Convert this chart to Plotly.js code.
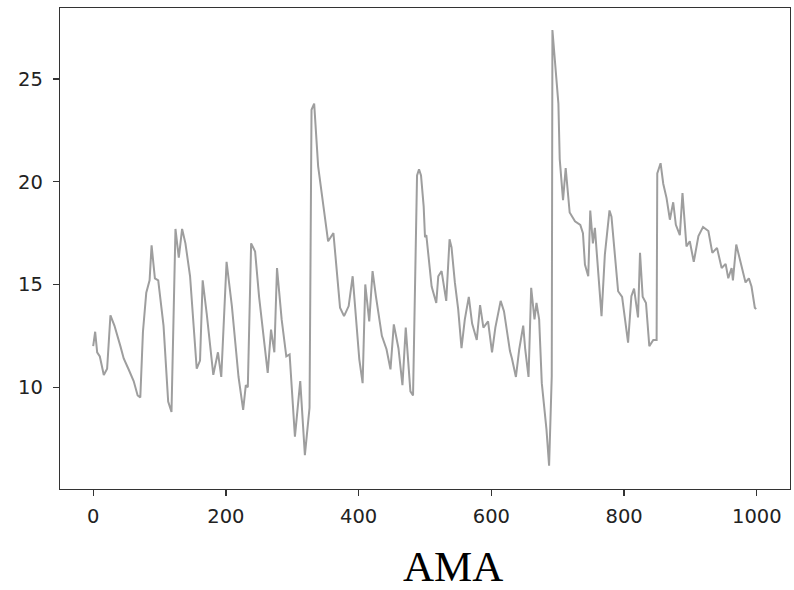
<!DOCTYPE html>
<html>
<head>
<meta charset="utf-8">
<script src="https://cdn.plot.ly/plotly-3.0.1.min.js"></script>
<style>html,body{margin:0;padding:0;background:#fff;}#chart{width:794px;height:590px;}</style>
</head>
<body>
<div id="chart"></div>
<script>
const chartTitle = "AMA";
const xTicks = [0, 200, 400, 600, 800, 1000];
const yTicks = [10, 15, 20, 25];
const stepIndex = [0,3,6,10,16,21,26,32,41,46,53,61,67,71,75,80,85,88,93,98,106,113,118,124,129,134,139,146,156,161,165,171,181,188,193,201,209,219,226,230,233,238,244,250,263,268,273,277,284,291,296,304,312,319,326,329,333,339,347,354,362,372,378,385,391,395,401,406,410,416,421,426,435,442,448,453,460,466,471,478,482,488,491,494,498,500,502,510,517,520,525,532,537,540,545,550,555,560,566,571,578,583,588,595,601,606,614,619,628,631,637,642,648,651,656,660,665,668,672,676,683,687,691,692,696,701,703,708,712,718,726,734,738,741,746,749,753,756,766,771,778,781,791,797,806,811,815,821,824,828,833,838,844,849,850,855,859,864,869,874,878,884,888,894,899,905,912,919,927,933,940,947,953,957,962,964,969,977,980,983,988,992,997,999];
const amaValue = [12.0,12.7,11.7,11.5,10.6,10.9,13.5,13.0,12.0,11.4,10.9,10.3,9.6,9.5,12.7,14.6,15.2,16.9,15.3,15.2,13.0,9.3,8.8,17.7,16.3,17.7,17.0,15.4,10.9,11.3,15.2,13.6,10.6,11.7,10.5,16.1,13.95,10.5,8.9,10.1,10.0,17.0,16.6,14.4,10.7,12.8,11.7,15.8,13.3,11.5,11.6,7.6,10.3,6.7,9.0,23.5,23.8,20.75,18.8,17.1,17.5,13.87,13.46,13.95,15.4,13.8,11.36,10.2,15.0,13.2,15.65,14.43,12.5,11.85,10.87,13.06,11.9,10.1,12.9,9.8,9.6,20.3,20.6,20.3,18.8,17.3,17.4,14.9,14.1,15.4,15.65,14.2,17.2,16.8,15.1,13.8,11.9,13.3,14.4,13.1,12.3,14.0,12.9,13.2,11.7,12.9,14.2,13.7,11.76,11.4,10.5,11.85,13.0,11.85,10.5,14.84,13.3,14.1,13.3,10.2,7.96,6.18,10.55,27.38,25.76,23.8,21.1,19.1,20.66,18.5,18.07,17.9,17.5,15.97,15.4,18.6,17.0,17.75,13.46,16.45,18.6,18.3,14.67,14.4,12.17,14.43,14.8,13.4,16.54,14.4,14.1,12.0,12.3,12.3,20.4,20.9,19.9,19.2,18.15,19.0,17.9,17.4,19.45,16.85,17.1,16.1,17.35,17.8,17.6,16.54,16.78,15.8,16.0,15.3,15.8,15.2,16.94,15.97,15.6,15.1,15.3,14.9,13.87,13.8];

const trace = {
  x: stepIndex, y: amaValue, type: 'scatter', mode: 'lines',
  line: {color: 'rgb(158,158,158)', width: 2}, hoverinfo: 'skip'
};
const axisCommon = {
  showline: true, mirror: true, linecolor: '#333', linewidth: 1.3,
  ticks: 'outside', ticklen: 6, tickwidth: 1.2, tickcolor: '#333',
  showgrid: false, zeroline: false,
  tickfont: {family: 'DejaVu Sans, sans-serif', size: 19.5, color: '#222'}
};
const layout = {
  width: 794, height: 590,
  margin: {l: 60, r: 4, t: 8, b: 101},
  paper_bgcolor: '#fff', plot_bgcolor: '#fff',
  showlegend: false,
  xaxis: Object.assign({}, axisCommon, {range: [-50, 1050], tickvals: xTicks, ticktext: xTicks.map(String), ticklabelstandoff: 3}),
  yaxis: Object.assign({}, axisCommon, {range: [5.05, 28.45], tickvals: yTicks, ticktext: yTicks.map(String), ticklabelstandoff: 6}),
  annotations: [{
    text: chartTitle, xref: 'paper', yref: 'paper', x: 0.538, y: -0.162,
    xanchor: 'center', yanchor: 'middle', showarrow: false,
    font: {family: 'Liberation Serif, Times New Roman, serif', size: 43, color: '#000'}
  }]
};
Plotly.newPlot('chart', [trace], layout, {displayModeBar: false, staticPlot: true});
</script>
</body>
</html>
